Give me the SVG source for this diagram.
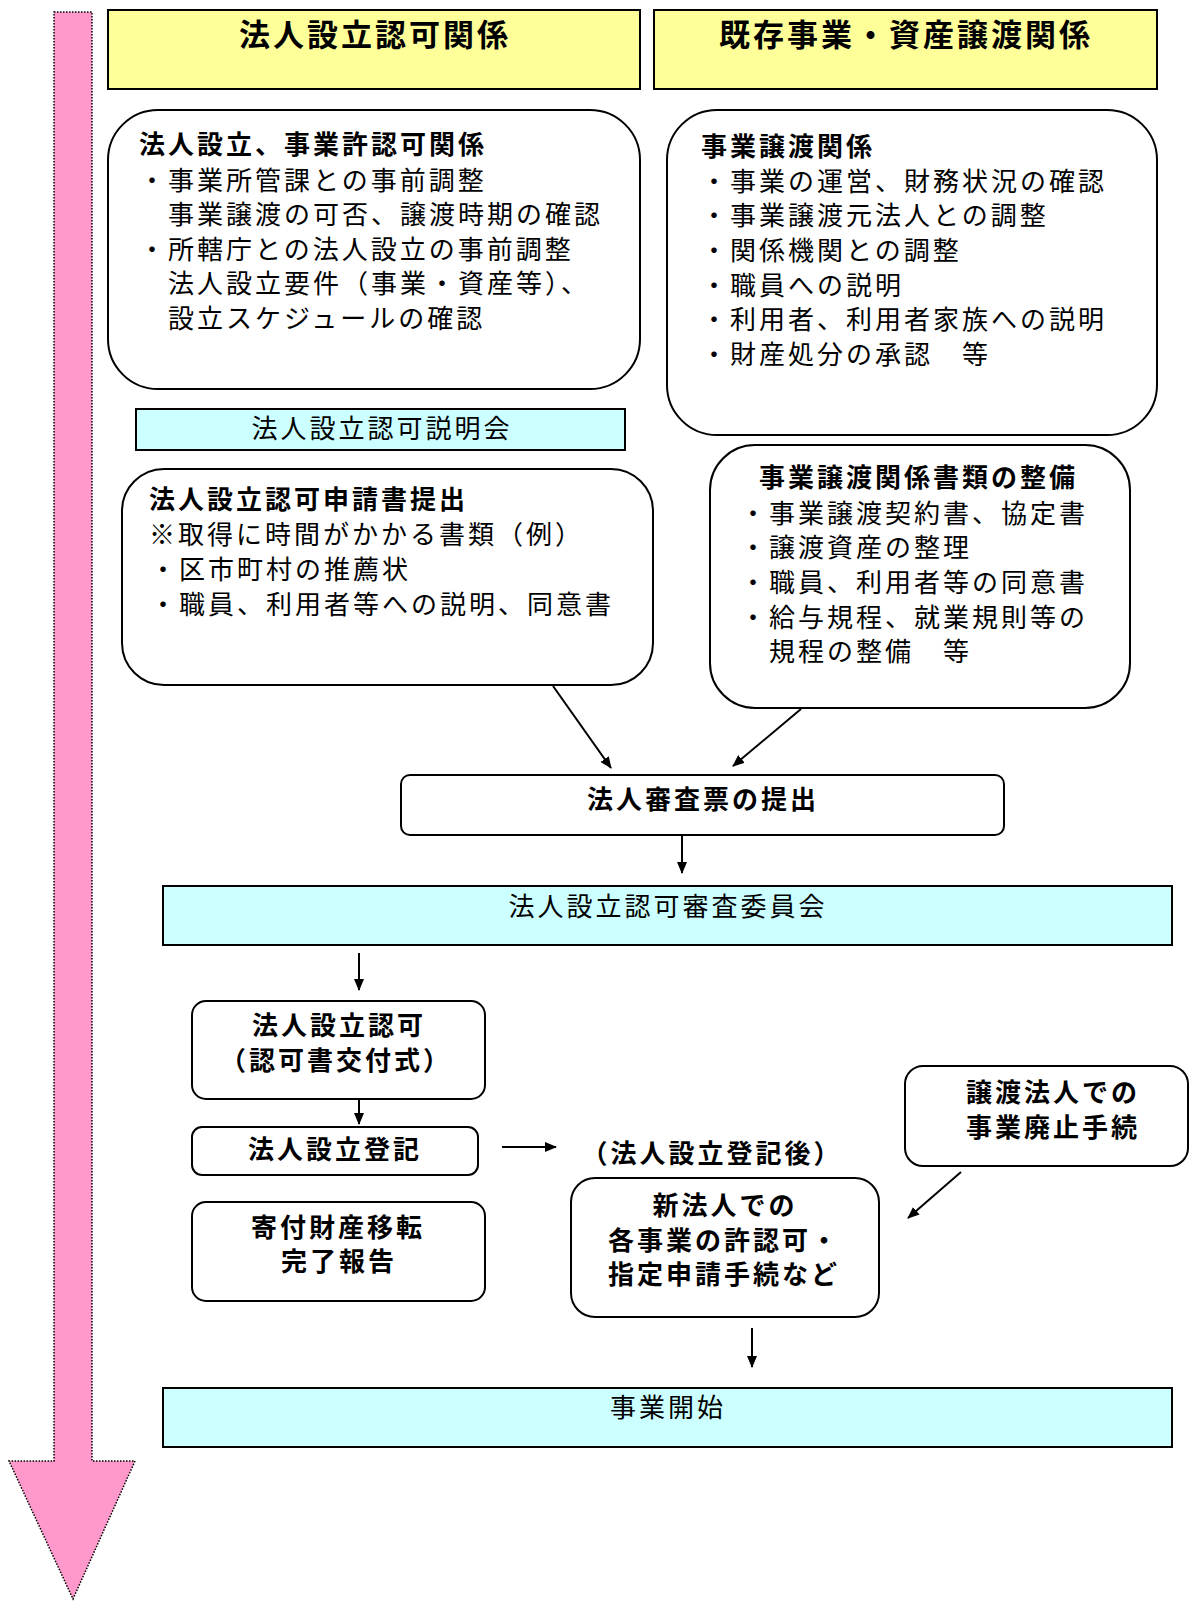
<svg xmlns="http://www.w3.org/2000/svg" width="1189" height="1601" viewBox="0 0 1189 1601">
<defs>
<style>
text{font-family:"Noto Sans CJK JP","Noto Sans CJK SC",sans-serif;fill:#000}
.h1{font-size:31px;font-weight:bold;letter-spacing:3px}
.t{font-size:26px;letter-spacing:3px}
.b{font-size:26px;font-weight:bold;letter-spacing:3px}
.c{text-anchor:middle}
.box{fill:#fff;stroke:#000;stroke-width:2}
.yel{fill:#FFFF99;stroke:#000;stroke-width:2}
.cyan{fill:#CCFFFF;stroke:#000;stroke-width:2}
.conn{stroke:#000;stroke-width:2;fill:none;marker-end:url(#ah)}
</style>
<marker id="ah" viewBox="0 0 12 10" refX="11" refY="5" markerWidth="12" markerHeight="10" markerUnits="userSpaceOnUse" orient="auto">
<path d="M0,0 L12,5 L0,10 z" fill="#000"/>
</marker>
</defs>
<rect width="1189" height="1601" fill="#fff"/>
<g id="timeline">
<polygon points="54,12 92,12 92,1461 135,1461 73,1599 9,1461 54,1461" fill="#FF99CC" stroke="#000" stroke-width="1.5" stroke-dasharray="1.5,1.5"/>
</g>
<g id="hdr1"><rect class="yel" x="108" y="10" width="532" height="79"/><text class="h1 c" x="375" y="46">法人設立認可関係</text></g>
<g id="hdr2"><rect class="yel" x="654" y="10" width="503" height="79"/><text class="h1 c" x="906" y="46">既存事業・資産譲渡関係</text></g>
<g id="boxA"><rect class="box" x="108" y="110" width="532" height="279" rx="50"/>
<text class="b" x="139" y="154">法人設立、事業許認可関係</text>
<text class="t" x="139" y="190">・事業所管課との事前調整</text>
<text class="t" x="168" y="224">事業譲渡の可否、譲渡時期の確認</text>
<text class="t" x="139" y="259">・所轄庁との法人設立の事前調整</text>
<text class="t" x="168" y="293">法人設立要件（事業・資産等）、</text>
<text class="t" x="168" y="328">設立スケジュールの確認</text>
</g>
<g id="boxB"><rect class="box" x="667" y="110" width="490" height="325" rx="50"/>
<text class="b" x="701" y="156">事業譲渡関係</text>
<text class="t" x="701" y="191">・事業の運営、財務状況の確認</text>
<text class="t" x="701" y="225">・事業譲渡元法人との調整</text>
<text class="t" x="701" y="260">・関係機関との調整</text>
<text class="t" x="701" y="295">・職員への説明</text>
<text class="t" x="701" y="329">・利用者、利用者家族への説明</text>
<text class="t" x="701" y="364">・財産処分の承認　等</text>
</g>
<g id="setsumeikai"><rect class="cyan" x="136" y="409" width="489" height="41"/><text class="t c" x="382" y="438">法人設立認可説明会</text></g>
<g id="boxC"><rect class="box" x="122" y="469" width="531" height="216" rx="42"/>
<text class="b" x="149" y="509">法人設立認可申請書提出</text>
<text class="t" x="149" y="544">※取得に時間がかかる書類（例）</text>
<text class="t" x="150" y="579">・区市町村の推薦状</text>
<text class="t" x="150" y="614">・職員、利用者等への説明、同意書</text>
</g>
<g id="boxD"><rect class="box" x="710" y="445" width="420" height="263" rx="45"/>
<text class="b" x="759" y="487">事業譲渡関係書類の整備</text>
<text class="t" x="740" y="523">・事業譲渡契約書、協定書</text>
<text class="t" x="740" y="557">・譲渡資産の整理</text>
<text class="t" x="740" y="592">・職員、利用者等の同意書</text>
<text class="t" x="740" y="627">・給与規程、就業規則等の</text>
<text class="t" x="769" y="661">規程の整備　等</text>
</g>
<g id="shinsahyo"><rect class="box" x="401" y="775" width="603" height="60" rx="9"/><text class="b c" x="703" y="809">法人審査票の提出</text></g>
<g id="iinkai"><rect class="cyan" x="163" y="886" width="1009" height="59"/><text class="t c" x="668" y="916">法人設立認可審査委員会</text></g>
<g id="ninka"><rect class="box" x="192" y="1001" width="293" height="98" rx="14"/>
<text class="b c" x="339" y="1035">法人設立認可</text>
<text class="b c" x="336" y="1070">（認可書交付式）</text></g>
<g id="touki"><rect class="box" x="192" y="1127" width="286" height="48" rx="10"/><text class="b c" x="335" y="1159">法人設立登記</text></g>
<text id="tokigo" class="b c" x="712" y="1163">（法人設立登記後）</text>
<g id="kifu"><rect class="box" x="192" y="1202" width="293" height="99" rx="14"/>
<text class="b c" x="338" y="1237">寄付財産移転</text>
<text class="b c" x="339" y="1271">完了報告</text></g>
<g id="shinhojin"><rect class="box" x="571" y="1178" width="308" height="139" rx="24"/>
<text class="b c" x="725" y="1215">新法人での</text>
<text class="b c" x="724" y="1250">各事業の許認可・</text>
<text class="b c" x="724" y="1284">指定申請手続など</text></g>
<g id="haishi"><rect class="box" x="905" y="1066" width="283" height="100" rx="18"/>
<text class="b c" x="1053" y="1102">譲渡法人での</text>
<text class="b c" x="1053" y="1137">事業廃止手続</text></g>
<g id="kaishi"><rect class="cyan" x="163" y="1388" width="1009" height="59"/><text class="t c" x="668" y="1417">事業開始</text></g>
<g id="connectors">
<line class="conn" x1="553" y1="686" x2="611" y2="768"/>
<line class="conn" x1="801" y1="709" x2="733" y2="766"/>
<line class="conn" x1="682" y1="836" x2="682" y2="873"/>
<line class="conn" x1="359" y1="953" x2="359" y2="990"/>
<line class="conn" x1="359" y1="1100" x2="359" y2="1124"/>
<line class="conn" x1="502" y1="1147" x2="556" y2="1147"/>
<line class="conn" x1="961" y1="1172" x2="908" y2="1218"/>
<line class="conn" x1="752" y1="1328" x2="752" y2="1367"/>
</g>
</svg>
